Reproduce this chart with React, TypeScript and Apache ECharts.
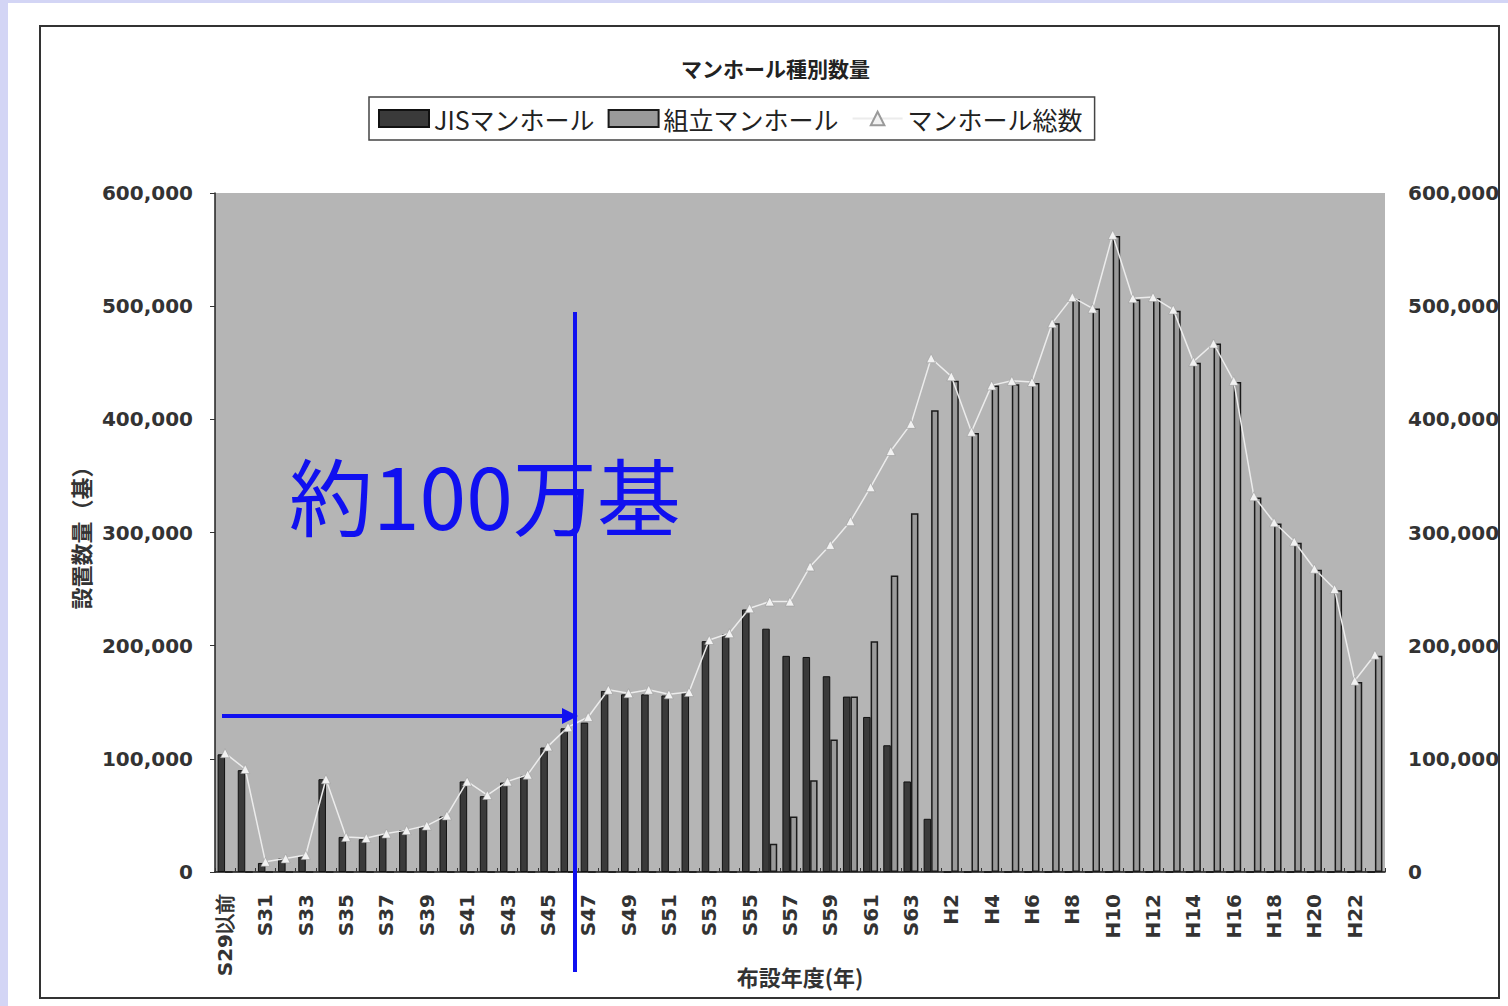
import React, { useEffect, useRef } from "react";
import * as echarts from "echarts";

const categories = [
  "S29以前", "S30", "S31", "S32", "S33", "S34", "S35", "S36", "S37", "S38",
  "S39", "S40", "S41", "S42", "S43", "S44", "S45", "S46", "S47", "S48",
  "S49", "S50", "S51", "S52", "S53", "S54", "S55", "S56", "S57", "S58",
  "S59", "S60", "S61", "S62", "S63", "H1", "H2", "H3", "H4", "H5",
  "H6", "H7", "H8", "H9", "H10", "H11", "H12", "H13", "H14", "H15",
  "H16", "H17", "H18", "H19", "H20", "H21", "H22", "H23",
];

const jisValues = [
  104000, 90000, 8000, 12000, 14000, 82000, 31000, 29000, 33000, 37000,
  40000, 49000, 80000, 67000, 79000, 85000, 110000, 127000, 132000, 160000,
  157000, 157000, 156000, 159000, 204000, 210000, 232000, 215000, 191000, 190000,
  173000, 155000, 137000, 112000, 80000, 47000, 0, 0, 0, 0,
  0, 0, 0, 0, 0, 0, 0, 0, 0, 0,
  0, 0, 0, 0, 0, 0, 0, 0,
];

const kumitateValues = [
  0, 0, 0, 0, 0, 0, 0, 0, 0, 0,
  0, 0, 0, 0, 0, 0, 0, 0, 0, 0,
  0, 0, 0, 0, 0, 0, 0, 25000, 49000, 81000,
  117000, 155000, 204000, 262000, 317000, 408000, 434000, 388000, 430000, 431000,
  432000, 485000, 506000, 498000, 562000, 506000, 507000, 496000, 450000, 467000,
  433000, 331000, 308000, 291000, 267000, 249000, 168000, 191000,
];

const totalValues = [
  105000, 91000, 9000, 12000, 15000, 82000, 31000, 30000, 34000, 37000,
  41000, 50000, 80000, 68000, 80000, 86000, 111000, 128000, 137000, 161000,
  158000, 161000, 157000, 159000, 205000, 211000, 233000, 239000, 239000, 270000,
  289000, 310000, 340000, 372000, 396000, 454000, 438000, 389000, 430000, 434000,
  433000, 485000, 508000, 498000, 563000, 507000, 508000, 497000, 451000, 467000,
  434000, 332000, 309000, 292000, 268000, 250000, 169000, 192000,
];

const yMin = 0;
const yMax = 600000;
const yStep = 100000;

const titleText = "マンホール種別数量";
const seriesNames = ["JISマンホール", "組立マンホール", "マンホール総数"];
const yAxisTitle = "設置数量（基）";
const xAxisTitle = "布設年度(年)";
const noteText = "約100万基";

const numFmt = (v: number) => v.toLocaleString("en-US");

export default function App() {
  const ref = useRef<HTMLDivElement>(null);

  useEffect(() => {
    if (!ref.current) return;
    const chart = echarts.init(ref.current, null, { renderer: "svg" });

    const tickLabel = {
      fontFamily: "DejaVu Sans",
      fontWeight: "bold" as const,
      fontSize: 20,
      color: "#333",
    };
    const axisTitle = {
      fontFamily: "Noto Sans CJK JP",
      fontWeight: "bold" as const,
      fontSize: 22,
      color: "#333",
    };
    const blue = "#1010f0";

    const option: any = {
      animation: false,
      backgroundColor: "transparent",
      title: {
        text: titleText,
        left: 676,
        top: 52,
        textStyle: {
          fontFamily: "Noto Sans CJK JP",
          fontWeight: "bold",
          fontSize: 21,
          color: "#222",
        },
      },
      legend: {
        left: 369,
        top: 97,
        orient: "horizontal",
        data: [
          { name: seriesNames[0], icon: "rect" },
          { name: seriesNames[1], icon: "rect" },
          { name: seriesNames[2] },
        ],
        itemWidth: 50,
        itemHeight: 17,
        itemGap: 13,
        padding: [9, 12, 9, 9],
        borderColor: "#444",
        borderWidth: 1.5,
        backgroundColor: "#fff",
        textStyle: {
          fontFamily: "Noto Sans CJK JP",
          fontSize: 25,
          color: "#222",
        },
      },
      grid: {
        left: 215,
        right: 123,
        top: 193,
        bottom: 134,
        containLabel: false,
        outerBoundsMode: "none",
        show: true,
        backgroundColor: "#b5b5b5",
        borderWidth: 0,
      },
      xAxis: {
        type: "category",
        data: categories,
        boundaryGap: true,
        axisLine: { show: true, lineStyle: { color: "#111", width: 1.5 } },
        axisTick: {
          show: true,
          inside: true,
          length: 4,
          interval: 0,
          lineStyle: { color: "#333" },
        },
        axisLabel: { ...tickLabel, interval: 1, rotate: 90, margin: 22 },
        splitLine: { show: false },
        name: xAxisTitle,
        nameLocation: "middle",
        nameGap: 93,
        nameMoveOverlap: false,
        nameTextStyle: axisTitle,
      },
      yAxis: [
        {
          type: "value",
          min: yMin,
          max: yMax,
          interval: yStep,
          position: "left",
          axisLine: { show: true, lineStyle: { color: "#222", width: 1.5 } },
          axisTick: { show: true, length: 5, lineStyle: { color: "#333" } },
          splitLine: { show: false },
          axisLabel: { ...tickLabel, margin: 22, formatter: numFmt },
          name: yAxisTitle,
          nameLocation: "middle",
          nameGap: 122,
          nameRotate: 90,
          nameTextStyle: axisTitle,
        },
        {
          type: "value",
          min: yMin,
          max: yMax,
          interval: yStep,
          position: "right",
          axisLine: { show: false },
          axisTick: { show: false },
          splitLine: { show: false },
          axisLabel: { ...tickLabel, margin: 23, formatter: numFmt },
        },
      ],
      series: [
        {
          name: seriesNames[0],
          type: "bar",
          data: jisValues,
          barWidth: 7.5,
          barGap: "0%",
          itemStyle: { color: "#3a3a3a", borderColor: "#111", borderWidth: 1 },
        },
        {
          name: seriesNames[1],
          type: "bar",
          data: kumitateValues,
          barWidth: 7.5,
          barGap: "0%",
          itemStyle: { color: "#9a9a9a", borderColor: "#1a1a1a", borderWidth: 1.5 },
        },
        {
          name: seriesNames[2],
          type: "line",
          data: totalValues,
          symbol: "triangle",
          symbolSize: 9,
          z: 5,
          lineStyle: { color: "#ececec", width: 1.5 },
          itemStyle: { color: "#f2f2f2", borderColor: "#9a9a9a", borderWidth: 0.6 },
        },
      ],
      graphic: [
        {
          type: "rect",
          silent: true,
          z: -10,
          shape: { x: 40, y: 26, width: 1459, height: 972 },
          style: { fill: "none", stroke: "#333", lineWidth: 2 },
        },
        {
          type: "text",
          z: 100,
          x: 289,
          y: 493,
          style: {
            text: noteText,
            fill: blue,
            fontSize: 84,
            fontFamily: "Noto Sans CJK JP",
            verticalAlign: "middle",
            align: "left",
          },
        },
        {
          type: "line",
          z: 100,
          shape: { x1: 575, y1: 312, x2: 575, y2: 972 },
          style: { stroke: blue, lineWidth: 4 },
        },
        {
          type: "line",
          z: 100,
          shape: { x1: 222, y1: 716, x2: 566, y2: 716 },
          style: { stroke: blue, lineWidth: 4 },
        },
        {
          type: "polygon",
          z: 100,
          shape: { points: [[562, 708], [578, 716], [562, 724]] },
          style: { fill: blue },
        },
      ],
    };

    chart.setOption(option);
    return () => chart.dispose();
  }, []);

  return (
    <div
      style={{
        position: "absolute",
        left: 0,
        top: 0,
        width: 1508,
        height: 1006,
        background: "#d3d5f5",
        overflow: "hidden",
      }}
    >
      <div
        style={{
          position: "absolute",
          left: 8,
          top: 3,
          width: 1500,
          height: 1003,
          background: "#ffffff",
        }}
      />
      <div
        ref={ref}
        style={{ position: "absolute", left: 0, top: 0, width: 1508, height: 1006 }}
      />
    </div>
  );
}
